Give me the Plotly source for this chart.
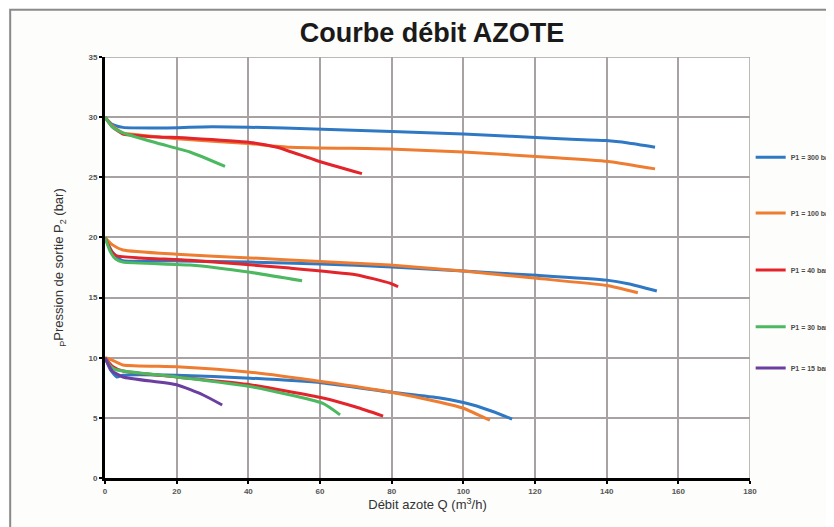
import plotly.graph_objects as go

# ---------------- data ----------------
# P1 = 300 bar
q_300_top = [0, 2, 5, 15, 30, 50, 80, 100, 127, 140, 146, 153.5]
p_300_top = [30, 29.4, 29.15, 29.1, 29.2, 29.1, 28.8, 28.6, 28.2, 28.05, 27.85, 27.5]
q_300_mid = [0, 2, 4.7, 20, 40.5, 60, 80, 100, 120.5, 140, 146, 154]
p_300_mid = [20, 18.8, 18.1, 18.05, 17.95, 17.8, 17.55, 17.2, 16.85, 16.45, 16.15, 15.55]
q_300_bot = [0, 1.5, 3.3, 5, 20, 40.5, 60.8, 79.5, 93.5, 102.7, 108, 113.6]
p_300_bot = [10, 9.0, 8.4, 8.55, 8.55, 8.3, 7.9, 7.15, 6.65, 6.07, 5.55, 4.9]

# P1 = 100 bar
q_100_top = [0, 2, 5, 10, 20, 40, 51.6, 79.5, 100, 127, 141, 153.5]
p_100_top = [30, 29.3, 28.7, 28.5, 28.2, 27.8, 27.5, 27.35, 27.1, 26.6, 26.3, 25.7]
q_100_mid = [0, 2, 5, 20, 40.5, 60, 79.5, 100, 120.5, 140, 148.7]
p_100_mid = [20, 19.4, 18.95, 18.6, 18.3, 18.0, 17.7, 17.2, 16.6, 16.0, 15.4]
q_100_bot = [0, 2, 5, 20, 40.5, 60.8, 79.5, 93.5, 100, 107.4]
p_100_bot = [10, 9.8, 9.4, 9.25, 8.8, 8.0, 7.15, 6.3, 5.8, 4.8]

# P1 = 40 bar
q_40_top = [0, 2, 5, 12, 23.7, 40.5, 48, 59, 71.7]
p_40_top = [30, 29.2, 28.6, 28.4, 28.25, 27.9, 27.5, 26.4, 25.3]
q_40_mid = [0, 1.5, 3, 10, 23.7, 51.6, 70, 79.5, 81.8]
p_40_mid = [20, 19.0, 18.5, 18.3, 18.1, 17.45, 16.9, 16.2, 15.9]
q_40_bot = [0, 2, 5, 20, 40.5, 60.8, 70, 77.6]
p_40_bot = [10, 9.3, 8.9, 8.4, 7.75, 6.65, 5.9, 5.15]

# P1 = 30 bar
q_30_top = [0, 2, 5, 14.5, 23.7, 33.5]
p_30_top = [30, 29.2, 28.7, 27.85, 27.1, 25.9]
q_30_mid = [0, 1.5, 3, 5, 23.7, 40.5, 55]
p_30_mid = [20, 18.8, 18.2, 17.95, 17.7, 17.1, 16.4]
q_30_bot = [0, 1.5, 3, 20, 40.5, 60.8, 65.6]
p_30_bot = [10, 9.3, 9.0, 8.4, 7.6, 6.2, 5.25]

# P1 = 15 bar
q_15_bot = [0, 2, 5, 20, 27.4, 32.7]
p_15_bot = [10, 8.9, 8.4, 7.75, 6.9, 6.07]

legend_labels = ["P1 = 300 bar", "P1 = 100 bar", "P1 = 40 bar", "P1 = 30 bar", "P1 = 15 bar"]
colors = ["#2f78c4", "#ee7d31", "#e3242b", "#4cb860", "#6a3fa0"]

x_ticks = [0, 20, 40, 60, 80, 100, 120, 140, 160, 180]
y_ticks = [0, 5, 10, 15, 20, 25, 30, 35]

series = [
    [(q_300_top, p_300_top), (q_300_mid, p_300_mid), (q_300_bot, p_300_bot)],
    [(q_100_top, p_100_top), (q_100_mid, p_100_mid), (q_100_bot, p_100_bot)],
    [(q_40_top, p_40_top), (q_40_mid, p_40_mid), (q_40_bot, p_40_bot)],
    [(q_30_top, p_30_top), (q_30_mid, p_30_mid), (q_30_bot, p_30_bot)],
    [(q_15_bot, p_15_bot)],
]

legend_ids = ["legend", "legend2", "legend3", "legend4", "legend5"]
legend_y = [0.717, 0.611, 0.503, 0.395, 0.317]

fig = go.Figure()
for i, groups in enumerate(series):
    for j, (qx, py) in enumerate(groups):
        fig.add_trace(go.Scatter(
            x=qx, y=py, mode="lines", name=legend_labels[i],
            line=dict(color=colors[i], width=3, shape="spline", smoothing=0.5),
            legend=legend_ids[i], legendgroup=legend_labels[i],
            showlegend=(j == 0), hoverinfo="x+y+name",
        ))

FONT = "Liberation Sans, Arial, sans-serif"
tick_font = dict(family=FONT, size=8, color="#555555", weight="bold")

layout_legends = {}
for k, lid in enumerate(legend_ids):
    layout_legends[lid] = dict(
        xref="container", yref="container",
        x=0.8905, y=legend_y[k], xanchor="left", yanchor="middle",
        bgcolor="rgba(0,0,0,0)", borderwidth=0,
        font=dict(family=FONT, size=7, color="#4a4a4a", weight="bold"),
    )

fig.update_layout(
    width=834, height=527,
    margin=dict(l=97, r=92, t=49, b=57),
    paper_bgcolor="#fdfdfc",
    plot_bgcolor="#ffffff",
    title=dict(text="<b>Courbe débit AZOTE</b>", x=0.507, xref="paper", xanchor="center",
               yref="container", y=0.9526, yanchor="middle",
               font=dict(family=FONT, size=27, color="#1a1a1a")),
    xaxis=dict(range=[0, 180], tickvals=x_ticks, ticktext=[str(v) for v in x_ticks],
               showgrid=True, gridcolor="#a8a2a2", gridwidth=1.5, automargin=False,
               showline=True, linecolor="#000000", linewidth=3,
               ticks="outside", ticklen=3, tickwidth=2, tickcolor="#000000",
               tickfont=tick_font, zeroline=False,
               title=dict(text="Débit azote Q (m<sup>3</sup>/h)", standoff=4,
                          font=dict(family=FONT, size=13, color="#333333"))),
    yaxis=dict(range=[0, 35], tickvals=y_ticks, ticktext=[str(v) for v in y_ticks],
               showgrid=True, gridcolor="#a8a2a2", gridwidth=1.5, automargin=False,
               showline=True, linecolor="#000000", linewidth=3,
               ticks="outside", ticklen=3, tickwidth=2, tickcolor="#000000",
               tickfont=tick_font, zeroline=False,
               title=dict(text="<sub>P</sub>Pression de sortie P<sub>2</sub> (bar)", standoff=22,
                          font=dict(family=FONT, size=13, color="#333333"))),
    **layout_legends,
)

# outer frame of the original picture (top and left edges visible)
fig.add_shape(type="rect", xref="paper", yref="paper", x0=-0.147, x1=1.2, y0=-0.2, y1=1.112,
              line=dict(color="#8a8a8a", width=2), fillcolor="rgba(0,0,0,0)", layer="below")
# grid edges at 35 and 180
fig.add_shape(type="line", xref="paper", yref="y", x0=0, x1=1, y0=35, y1=35,
              line=dict(color="#a8a2a2", width=1.5), layer="below")
fig.add_shape(type="line", xref="x", yref="paper", x0=180, x1=180, y0=0, y1=1,
              line=dict(color="#a8a2a2", width=1.5), layer="below")

fig.write_html("out.html")
